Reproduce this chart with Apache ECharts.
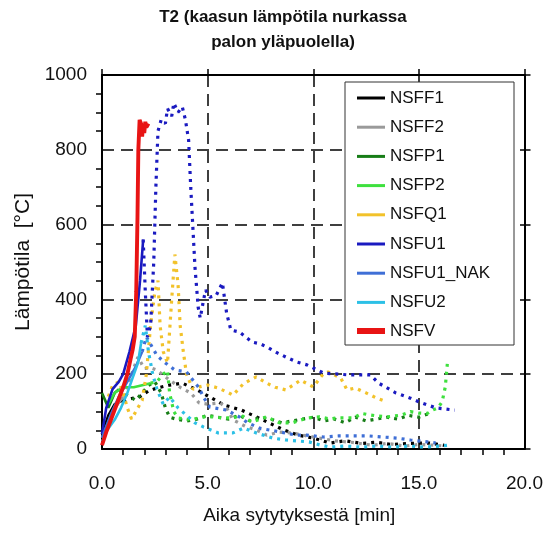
<!DOCTYPE html>
<html>
<head>
<meta charset="utf-8">
<script src="https://cdn.jsdelivr.net/npm/echarts@6/dist/echarts.min.js"></script>
<style>
  html, body { margin: 0; padding: 0; background: #fff; }
  #chart { width: 546px; height: 538px; }
</style>
</head>
<body>
<div id="chart"></div>
<script>
// Gas temperature in the corner above the fire, [time (min), temperature (°C)]
const NSFF1 = [[0,40],[0.3,90],[0.6,120],[1.0,130],[1.4,135],[1.8,140],[2.2,155],[2.6,163],[3.2,171],[3.8,176],[4.5,158],[5.1,139],[5.8,117],[6.6,104],[7.3,86],[7.9,70],[8.6,51],[9.3,37],[10.0,29],[10.8,16],[11.5,22],[12.3,15],[13.0,18],[13.7,12],[14.5,15],[15.5,16],[16.2,10]];
const NSFF2 = [[0,30],[0.5,100],[1.0,140],[1.4,200],[1.7,246],[2.0,215],[2.3,217],[2.6,211],[3.2,184],[3.7,165],[4.2,150],[4.6,123],[5.0,120],[5.6,123],[5.9,110],[6.2,78],[6.8,60],[7.3,51],[7.8,37],[8.4,45],[9.0,43],[9.5,37],[10.2,30],[11.0,22],[11.8,18],[12.8,10],[13.5,15],[14.3,8],[15.0,12],[15.8,10],[16.2,8]];
const NSFP1 = [[0,150],[0.15,130],[0.3,110],[0.45,130],[0.6,150],[0.8,160],[1.0,150],[1.3,140],[1.6,130],[1.9,150],[2.2,170],[2.5,180],[2.8,150],[3.0,110],[3.2,85],[3.5,80],[4.0,75],[4.5,80],[5.0,90],[5.5,85],[6.0,80],[6.5,90],[7.0,75],[7.5,85],[8.0,80],[8.5,70],[9.0,75],[9.5,80],[10.0,85],[10.5,75],[11.0,80],[11.5,70],[12.0,85],[12.5,75],[13.0,80],[13.5,85],[14.0,80],[14.5,90],[15.0,85],[15.5,95]];
const NSFP2 = [[0.3,120],[0.6,150],[1.0,165],[1.5,165],[2.0,172],[2.3,176],[2.6,180],[2.9,200],[3.1,210],[3.2,150],[3.4,100],[3.6,83],[4.2,78],[4.8,86],[5.2,86],[5.7,83],[6.2,83],[6.6,90],[7.1,72],[7.8,86],[8.4,70],[9.0,70],[9.7,83],[10.3,86],[10.8,80],[11.1,83],[11.9,83],[12.3,95],[12.7,91],[13.1,88],[13.5,86],[14.2,91],[14.6,100],[15.0,96],[15.4,95],[15.65,104],[15.9,110],[16.1,126],[16.25,166],[16.35,230]];
const NSFQ1 = [[0.3,140],[0.5,170],[0.8,180],[1.0,150],[1.2,110],[1.4,80],[1.6,100],[1.9,130],[2.1,200],[2.3,330],[2.5,420],[2.65,450],[2.75,330],[2.9,260],[3.1,230],[3.3,400],[3.45,520],[3.6,440],[3.7,330],[3.85,260],[4.0,200],[4.3,160],[4.6,166],[5.0,171],[5.5,163],[6.0,150],[6.2,144],[6.7,175],[7.3,193],[7.8,176],[8.2,165],[8.7,158],[9.4,184],[10.0,166],[10.5,203],[10.7,206],[11.3,190],[11.6,158],[12.0,163],[12.5,150],[13.0,136],[13.5,126]];
const NSFU1 = [[0,40],[0.2,110],[0.5,160],[0.8,180],[1.0,200],[1.3,260],[1.6,330],[1.8,450],[1.95,560],[2.05,420],[2.15,300],[2.3,330],[2.45,500],[2.55,700],[2.65,850],[2.8,880],[3.0,870],[3.1,910],[3.3,890],[3.4,925],[3.6,900],[3.8,915],[3.95,880],[4.1,826],[4.2,700],[4.3,594],[4.4,487],[4.5,417],[4.55,380],[4.65,350],[4.78,390],[4.9,425],[5.1,406],[5.4,410],[5.7,444],[5.8,403],[5.9,363],[6.1,318],[6.5,313],[7.1,286],[7.5,281],[7.9,270],[8.3,257],[8.7,246],[9.2,233],[9.7,225],[10.2,211],[10.5,203],[11.7,198],[12.7,198],[13.1,176],[13.9,150],[14.6,136],[15.0,126],[15.8,110],[16.7,104]];
const NSFU1_NAK = [[0,30],[0.4,90],[0.8,140],[1.2,180],[1.6,220],[1.9,260],[2.1,300],[2.3,280],[2.6,250],[3.0,230],[3.45,211],[4.0,206],[4.6,163],[4.8,139],[5.1,112],[5.9,104],[6.5,86],[6.9,70],[7.5,55],[8.2,48],[9.2,37],[9.7,37],[10.5,32],[11.2,35],[11.9,35],[12.6,35],[13.3,32],[14.0,29],[14.6,24],[15.4,19],[15.8,16]];
const NSFU2 = [[0,20],[0.25,51],[0.6,78],[0.9,110],[1.2,150],[1.45,190],[1.7,230],[1.85,283],[2.05,330],[2.2,260],[2.4,200],[2.6,160],[2.9,120],[3.2,139],[3.6,110],[4.0,90],[4.4,70],[4.8,59],[5.2,50],[5.5,43],[6.2,43],[6.7,56],[7.3,43],[8.1,29],[8.7,24],[9.8,19],[10.3,11],[10.8,5],[11.5,8],[12.3,5],[13.0,8],[13.8,5],[14.5,8],[15.3,5],[16.0,8],[16.4,10]];
const NSFV = [[0,10],[0.2,45],[0.4,75],[0.6,105],[0.8,135],[1.0,165],[1.2,200],[1.35,240],[1.45,265],[1.55,300],[1.62,420],[1.68,620],[1.72,800],[1.78,880],[1.85,870],[1.9,835],[1.95,870],[2.0,845],[2.05,875],[2.1,860],[2.2,870]];

const seriesNames = ['NSFF1','NSFF2','NSFP1','NSFP2','NSFQ1','NSFU1','NSFU1_NAK','NSFU2','NSFV'];
const seriesData = [NSFF1, NSFF2, NSFP1, NSFP2, NSFQ1, NSFU1, NSFU1_NAK, NSFU2, NSFV];
const xTicks = [0, 5, 10, 15, 20];
const yTicks = [0, 200, 400, 600, 800, 1000];

// Drawing style per curve: colour, width, and the time up to which the trace is drawn solid
const styles = {
  NSFF1:     { color: '#000000', width: 3.2, solidUntil: 1.0 },
  NSFF2:     { color: '#9a9a9a', width: 3.2, solidUntil: 1.0 },
  NSFP1:     { color: '#177d17', width: 3.2, solidUntil: 0.8 },
  NSFP2:     { color: '#3ee03e', width: 3.2, solidUntil: 2.3 },
  NSFQ1:     { color: '#f2c22a', width: 3.2, solidUntil: 0 },
  NSFU1:     { color: '#1a1ac0', width: 3.2, solidUntil: 1.95 },
  NSFU1_NAK: { color: '#3f6fd6', width: 3.2, solidUntil: 1.9 },
  NSFU2:     { color: '#2cc0e6', width: 3.2, solidUntil: 1.85 },
  NSFV:      { color: '#e81414', width: 4.5, solidUntil: 99 }
};

const series = [];
seriesNames.forEach((name, i) => {
  const st = styles[name];
  const pts = seriesData[i];
  const solid = pts.filter(p => p[0] <= st.solidUntil);
  const dashed = pts.filter(p => p[0] >= st.solidUntil);
  const base = {
    name, type: 'line', symbol: 'none', smooth: false, animation: false,
    itemStyle: { color: st.color }
  };
  if (solid.length > 1) {
    series.push(Object.assign({}, base, {
      data: solid, lineStyle: { color: st.color, width: st.width - 0.6, type: 'solid' }
    }));
  }
  if (dashed.length > 1) {
    series.push(Object.assign({}, base, {
      data: dashed, lineStyle: { color: st.color, width: st.width, type: [3, 5] }
    }));
  }
});

const dashGrid = { show: true, lineStyle: { color: '#000', width: 1.5, type: [12, 7] } };
const fontFam = '"Liberation Sans", Arial, sans-serif';

const chart = echarts.init(document.getElementById('chart'), null, { renderer: 'canvas' });
chart.setOption({
  backgroundColor: '#ffffff',
  animation: false,
  grid: { left: 102, top: 75, right: 21, bottom: 89, containLabel: false },
  graphic: [
    { type: 'text', x: 283, y: 9, style: { text: 'T2 (kaasun lämpötila nurkassa', font: 'bold 17px ' + fontFam, fill: '#111', textAlign: 'center' } },
    { type: 'text', x: 283, y: 34, style: { text: 'palon yläpuolella)', font: 'bold 17px ' + fontFam, fill: '#111', textAlign: 'center' } },
    { type: 'rect', shape: { x: 345, y: 82, width: 169, height: 263 }, style: { fill: '#fff', stroke: '#333', lineWidth: 1 }, z: 5 }
  ],
  legend: [
    {
      data: seriesNames.slice(0, 8).map(n => ({ name: n, icon: 'rect', itemStyle: { color: styles[n].color } })),
      orient: 'vertical', left: 357, top: 89, padding: 0,
      itemWidth: 28, itemHeight: 3, itemGap: 11.2,
      textStyle: { fontSize: 17, fontFamily: fontFam, color: '#111', lineHeight: 18 },
      selectedMode: false, z: 10
    },
    {
      data: [{ name: 'NSFV', icon: 'rect', itemStyle: { color: styles.NSFV.color } }],
      orient: 'vertical', left: 357, top: 322, padding: 0,
      itemWidth: 28, itemHeight: 6,
      textStyle: { fontSize: 17, fontFamily: fontFam, color: '#111', lineHeight: 18 },
      selectedMode: false, z: 10
    }
  ],
  xAxis: [
    {
      type: 'value', min: xTicks[0], max: xTicks[xTicks.length - 1], interval: 5,
      name: 'Aika sytytyksestä [min]', nameLocation: 'middle', nameGap: 57,
      nameTextStyle: { fontSize: 19, fontFamily: fontFam, color: '#111', padding: [0, 28, 0, 0] },
      axisLine: { show: true, onZero: false, lineStyle: { color: '#000', width: 2 } },
      axisTick: { show: false },
      minorTick: { show: true, splitNumber: 5, length: 6, lineStyle: { color: '#000', width: 1.5 } },
      axisLabel: { fontSize: 19, fontFamily: fontFam, color: '#111', margin: 25, formatter: v => v.toFixed(1) },
      splitLine: dashGrid, minorSplitLine: { show: false }
    },
    {
      type: 'value', position: 'top', min: xTicks[0], max: xTicks[xTicks.length - 1], interval: 5,
      axisLine: { show: true, onZero: false, lineStyle: { color: '#000', width: 2 } },
      axisTick: { show: true, inside: false, length: 6, lineStyle: { color: '#000', width: 1.5 } },
      axisLabel: { show: false }, splitLine: { show: false }
    }
  ],
  yAxis: [
    {
      type: 'value', min: yTicks[0], max: yTicks[yTicks.length - 1], interval: 200,
      name: 'Lämpötila  [°C]', nameLocation: 'middle', nameGap: 56,
      nameTextStyle: { fontSize: 21, fontFamily: fontFam, color: '#111' },
      axisLine: { show: true, onZero: false, lineStyle: { color: '#000', width: 2 } },
      axisTick: { show: false },
      minorTick: { show: true, splitNumber: 4, length: 6, lineStyle: { color: '#000', width: 1.5 } },
      axisLabel: { fontSize: 19, fontFamily: fontFam, color: '#111', margin: 15, formatter: v => String(v) },
      splitLine: dashGrid, minorSplitLine: { show: false }
    },
    {
      type: 'value', position: 'right', min: yTicks[0], max: yTicks[yTicks.length - 1], interval: 200,
      axisLine: { show: true, onZero: false, lineStyle: { color: '#000', width: 2 } },
      axisTick: { show: true, inside: false, length: 6, lineStyle: { color: '#000', width: 1.5 } },
      axisLabel: { show: false }, splitLine: { show: false }
    }
  ],
  series: series
});
</script>
</body>
</html>
